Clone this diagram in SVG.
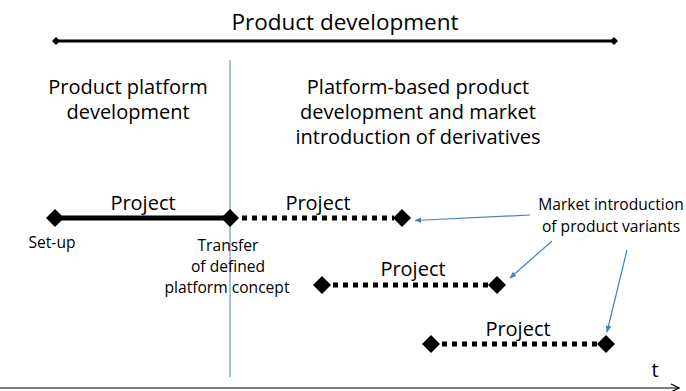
<svg xmlns="http://www.w3.org/2000/svg" width="686" height="391" viewBox="0 0 686 391">
<style>
text{font-family:"Open Sans","Noto Sans",sans-serif;fill:#000}
.h{font-size:22.5px}
.p{font-size:20px}
.s{font-size:15.6px}
.solid{stroke:#000;stroke-width:5;fill:none}
.dot{stroke:#000;stroke-width:5;stroke-dasharray:5 5;fill:none}
.blue{stroke:#4a7ebb;stroke-width:1.2;fill:none;marker-end:url(#ah)}
</style>
<defs>
<marker id="ah" viewBox="0 0 10 10" refX="9" refY="5" markerWidth="7" markerHeight="7" orient="auto" markerUnits="userSpaceOnUse">
<path d="M0,1 L10,5 L0,9 Z" fill="#4a7ebb"/>
</marker>
<marker id="ax" viewBox="0 0 10 10" refX="9" refY="5" markerWidth="10" markerHeight="10" orient="auto" markerUnits="userSpaceOnUse">
<path d="M1,1 L9,5 L1,9" fill="none" stroke="#000" stroke-width="1.2"/>
</marker>
<path id="dm" d="M-9,0 L0,-9 L9,0 L0,9 Z" fill="#000"/>
</defs>
<g id="title">
<text class="h" x="345" y="30" text-anchor="middle">Product development</text>
<line x1="56" y1="41" x2="614" y2="41" stroke="#000" stroke-width="3"/>
<path d="M52,41 L56,37 L60,41 L56,45 Z M610,41 L614,37 L618,41 L614,45 Z" fill="#000"/>
</g>
<g id="divider"><line x1="230" y1="60" x2="230" y2="377" stroke="#4a7ebb" stroke-width="1"/></g>
<g id="phase1">
<text class="p" x="128" y="94" text-anchor="middle">Product platform</text>
<text class="p" x="128" y="119" text-anchor="middle">development</text>
</g>
<g id="phase2">
<text class="p" x="418" y="94" text-anchor="middle">Platform-based product</text>
<text class="p" x="418" y="119" text-anchor="middle">development  and market</text>
<text class="p" x="418" y="144" text-anchor="middle">introduction of derivatives</text>
</g>
<g id="project1">
<line class="solid" x1="55" y1="218" x2="230" y2="218"/>
<use href="#dm" x="55" y="218"/>
<use href="#dm" x="230" y="218"/>
<text class="p" x="143" y="210" text-anchor="middle">Project</text>
<text class="s" x="52" y="248" text-anchor="middle">Set-up</text>
<text class="s" x="228" y="251" text-anchor="middle">Transfer</text>
<text class="s" x="228" y="272" text-anchor="middle">of defined</text>
<text class="s" x="227" y="293" text-anchor="middle">platform concept</text>
</g>
<g id="project2">
<line class="dot" x1="242" y1="218" x2="394" y2="218"/>
<use href="#dm" x="402" y="218"/>
<text class="p" x="318" y="210" text-anchor="middle">Project</text>
</g>
<g id="project3">
<line class="dot" x1="333" y1="285" x2="490" y2="285"/>
<use href="#dm" x="322" y="285"/>
<use href="#dm" x="497" y="285"/>
<text class="p" x="413" y="276" text-anchor="middle">Project</text>
</g>
<g id="project4">
<line class="dot" x1="442" y1="344" x2="598" y2="344"/>
<use href="#dm" x="431" y="344"/>
<use href="#dm" x="606" y="344"/>
<text class="p" x="518" y="336" text-anchor="middle">Project</text>
</g>
<g id="market">
<text class="s" x="611" y="210" text-anchor="middle">Market introduction</text>
<text class="s" x="611" y="232" text-anchor="middle">of product variants</text>
</g>
<g id="connectors">
<line class="blue" x1="530" y1="215" x2="415" y2="220.5"/>
<line class="blue" x1="552" y1="241" x2="510" y2="278"/>
<line class="blue" x1="627" y1="250" x2="607" y2="332"/>
</g>
<g id="axis">
<line x1="0" y1="388" x2="679" y2="388" stroke="#000" stroke-width="1.2" marker-end="url(#ax)"/>
<text class="p" x="655" y="377" text-anchor="middle">t</text>
</g>
</svg>
